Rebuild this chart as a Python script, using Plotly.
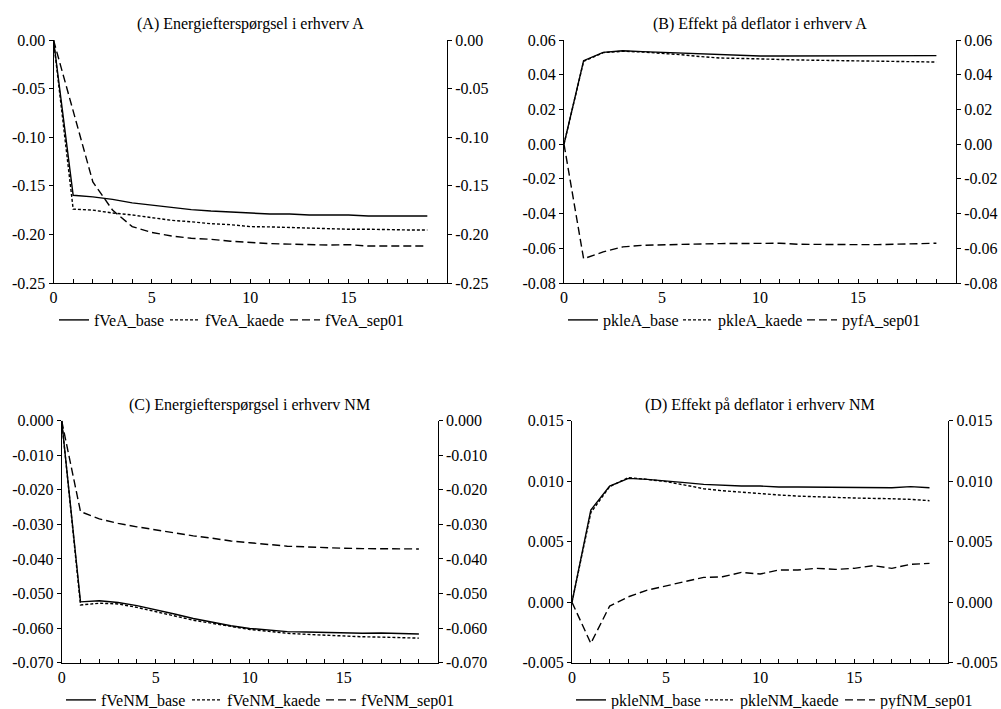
import plotly.graph_objects as go

# Periods 0..19
periods = list(range(20))

# (A) energy demand, industry A
fVeA_base = [0.0, -0.1597, -0.1614, -0.164, -0.1676, -0.170, -0.172, -0.1745, -0.176, -0.177,
             -0.178, -0.179, -0.179, -0.180, -0.180, -0.180, -0.181, -0.181, -0.181, -0.181]
fVeA_kaede = [0.0, -0.174, -0.175, -0.178, -0.180, -0.183, -0.1855, -0.187, -0.189, -0.190,
              -0.192, -0.1923, -0.193, -0.1933, -0.1947, -0.1947, -0.1947, -0.1954, -0.1954, -0.1954]
fVeA_sep01 = [0.0, -0.072, -0.146, -0.175, -0.192, -0.198, -0.2016, -0.204, -0.205, -0.207,
              -0.2085, -0.2095, -0.210, -0.2105, -0.211, -0.2105, -0.212, -0.212, -0.212, -0.212]

# (B) deflator effect, industry A
pkleA_base = [0.0, 0.0481, 0.0529, 0.0538, 0.0533, 0.0529, 0.0523, 0.0519, 0.0513, 0.0512,
              0.0508, 0.0508, 0.0508, 0.0510, 0.0510, 0.0510, 0.0510, 0.0510, 0.0510, 0.0510]
pkleA_kaede = [0.0, 0.0477, 0.0527, 0.0535, 0.0531, 0.0525, 0.0515, 0.0504, 0.0496, 0.0494,
               0.0490, 0.0487, 0.0485, 0.0483, 0.0481, 0.0479, 0.0477, 0.0475, 0.0473, 0.0473]
pyfA_sep01 = [0.0, -0.0660, -0.0621, -0.0592, -0.0583, -0.0579, -0.0577, -0.0575, -0.0573, -0.0571,
              -0.0573, -0.0571, -0.0577, -0.0579, -0.0579, -0.0579, -0.0579, -0.0575, -0.0571, -0.0571]

# (C) energy demand, industry NM
fVeNM_base = [0.0, -0.0524, -0.0521, -0.0526, -0.0535, -0.0546, -0.0559, -0.0572, -0.0583, -0.0593,
              -0.0601, -0.0606, -0.0610, -0.0611, -0.0613, -0.0614, -0.0615, -0.0614, -0.0615, -0.0617]
fVeNM_kaede = [0.0, -0.0533, -0.0528, -0.0530, -0.0540, -0.0552, -0.0565, -0.0577, -0.0586, -0.0596,
               -0.0604, -0.0609, -0.0615, -0.0618, -0.0621, -0.0622, -0.0625, -0.0626, -0.0627, -0.0629]
fVeNM_sep01 = [0.0, -0.0263, -0.0284, -0.0297, -0.0307, -0.0316, -0.0326, -0.0333, -0.0340, -0.0348,
               -0.0353, -0.0358, -0.0363, -0.0365, -0.0368, -0.0369, -0.0370, -0.0370, -0.0371, -0.0371]

# (D) deflator effect, industry NM
pkleNM_base = [0.0, 0.00762, 0.0096, 0.01023, 0.01015, 0.01004, 0.00988, 0.00974, 0.00966, 0.0096,
               0.0096, 0.00952, 0.00952, 0.00952, 0.00952, 0.00952, 0.00946, 0.00946, 0.00955, 0.00946]
pkleNM_kaede = [0.0, 0.0074, 0.00955, 0.0103, 0.01015, 0.00996, 0.00968, 0.00938, 0.00921, 0.00908,
                0.00899, 0.00886, 0.00877, 0.00869, 0.00866, 0.00861, 0.00855, 0.00855, 0.0085, 0.00839]
pyfNM_sep01 = [0.0, -0.0034, -0.00032, 0.00045, 0.0010, 0.00136, 0.0017, 0.00205, 0.0021, 0.00246,
               0.00233, 0.00266, 0.00266, 0.0028, 0.00271, 0.0028, 0.00302, 0.0028, 0.00313, 0.00321]

# Axis ticks
x_ticks = [0, 5, 10, 15]
yticks_A = [-0.25, -0.20, -0.15, -0.10, -0.05, 0.00]
yticks_B = [-0.08, -0.06, -0.04, -0.02, 0.00, 0.02, 0.04, 0.06]
yticks_C = [-0.070, -0.060, -0.050, -0.040, -0.030, -0.020, -0.010, 0.000]
yticks_D = [-0.005, 0.000, 0.005, 0.010, 0.015]

# Layout of each panel in pixels: plot box, legend left edge / row, legend entry widths
panels = [
    dict(title="(A) Energiefterspørgsel i erhverv A",
         series=[("fVeA_base", fVeA_base), ("fVeA_kaede", fVeA_kaede), ("fVeA_sep01", fVeA_sep01)],
         yticks=yticks_A, decimals=2,
         xdom=[53.5, 447.0], ydom=[40.0, 283.0],
         legend_x=54, legend_y=320, entry_w=[66, 75, 83]),
    dict(title="(B) Effekt på deflator i erhverv A",
         series=[("pkleA_base", pkleA_base), ("pkleA_kaede", pkleA_kaede), ("pyfA_sep01", pyfA_sep01)],
         yticks=yticks_B, decimals=2,
         xdom=[564.0, 956.0], ydom=[40.0, 283.0],
         legend_x=563, legend_y=320, entry_w=[70, 79, 80]),
    dict(title="(C) Energiefterspørgsel i erhverv NM",
         series=[("fVeNM_base", fVeNM_base), ("fVeNM_kaede", fVeNM_kaede), ("fVeNM_sep01", fVeNM_sep01)],
         yticks=yticks_C, decimals=3,
         xdom=[61.7, 437.7], ydom=[420.7, 662.7],
         legend_x=61, legend_y=700, entry_w=[81, 89, 95]),
    dict(title="(D) Effekt på deflator i erhverv NM",
         series=[("pkleNM_base", pkleNM_base), ("pkleNM_kaede", pkleNM_kaede), ("pyfNM_sep01", pyfNM_sep01)],
         yticks=yticks_D, decimals=3,
         xdom=[572.0, 948.3], ydom=[420.7, 662.7],
         legend_x=571, legend_y=700, entry_w=[84, 95, 95]),
]

W, H = 1001, 709
FONT = "Liberation Serif"
FS = 16
dashes = ["solid", "3px,2px", "8px,4px"]

fig = go.Figure()
layout = dict(
    template="none",
    width=W, height=H, margin=dict(l=0, r=0, t=0, b=0, autoexpand=False),
    paper_bgcolor="white", plot_bgcolor="white",
    font=dict(family=FONT, size=FS, color="black"),
    annotations=[],
)

for i, p in enumerate(panels):
    n = i + 1
    xa = "x" if n == 1 else f"x{n}"
    ya = "y" if n == 1 else f"y{n}"
    ra = f"y{n + 4}"
    leg = "legend" if n == 1 else f"legend{n}"
    xdom = [p["xdom"][0] / W, p["xdom"][1] / W]
    ydom = [1 - p["ydom"][1] / H, 1 - p["ydom"][0] / H]
    yt = p["yticks"]
    ytext = [f"{abs(v):.{p['decimals']}f}" if abs(v) < 1e-12 else f"{v:.{p['decimals']}f}" for v in yt]
    yrange = [yt[0], yt[-1]]

    for (name, vals), dash, ew in zip(p["series"], dashes, p["entry_w"]):
        fig.add_trace(go.Scatter(
            x=periods, y=vals, name=name, mode="lines",
            line=dict(color="black", width=1.4, dash=dash),
            xaxis=xa, yaxis=ya, legend=leg, legendwidth=ew,
        ))
    # the right-hand scale mirrors the left one; a transparent trace keeps it drawn
    fig.add_trace(go.Scatter(
        x=periods, y=p["series"][0][1], mode="lines", opacity=0,
        line=dict(width=0), showlegend=False, hoverinfo="skip",
        xaxis=xa, yaxis=ra,
    ))

    axis_common = dict(showgrid=False, zeroline=False, showline=True,
                       linecolor="black", linewidth=1, automargin=False)
    layout["xaxis" if n == 1 else f"xaxis{n}"] = dict(
        domain=xdom, anchor=ya, range=[0, 20],
        tickvals=x_ticks, ticktext=[str(v) for v in x_ticks],
        ticks="inside", ticklen=4, tickcolor="black",
        minor=dict(ticks="inside", ticklen=4, dtick=1, tick0=0, tickcolor="black"),
        **axis_common)
    yax = dict(range=yrange, tickvals=yt, ticktext=ytext,
               ticks="outside", ticklen=4, tickcolor="black", **axis_common)
    layout["yaxis" if n == 1 else f"yaxis{n}"] = dict(domain=ydom, anchor=xa, side="left", **yax)
    layout[f"yaxis{n + 4}"] = dict(overlaying=ya, anchor=xa, side="right", **yax)

    layout[leg] = dict(
        orientation="h", x=p["legend_x"] / W, xanchor="left",
        y=1 - p["legend_y"] / H, yanchor="middle",
        bgcolor="rgba(0,0,0,0)", borderwidth=0, itemwidth=30,
        font=dict(family=FONT, size=FS), tracegroupgap=0,
    )
    layout["annotations"].append(dict(
        text=p["title"], xref="paper", yref="paper", showarrow=False,
        x=(xdom[0] + xdom[1]) / 2, y=ydom[1] + 16 / H, yanchor="middle", xanchor="center",
        font=dict(family=FONT, size=FS),
    ))

fig.update_layout(**layout)
fig.write_html("out.html")
